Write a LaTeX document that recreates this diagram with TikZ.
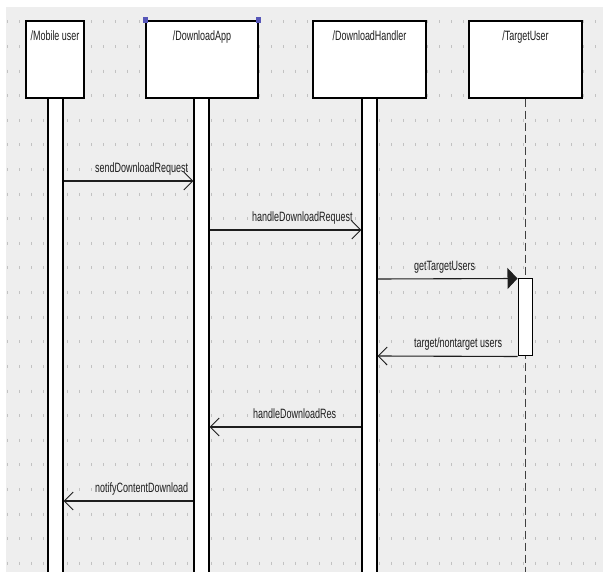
\documentclass[tikz,border=0pt]{standalone}
\usepackage{fontspec}
\setmainfont{Liberation Sans}[FakeStretch=0.665]
\usetikzlibrary{arrows.meta}
\definecolor{bggray}{HTML}{EEEEEE}
\definecolor{dotgray}{HTML}{C2C2C2}
\definecolor{handleblue}{HTML}{5656B8}
\definecolor{inkdark}{HTML}{1E1E1E}
\begin{document}
\begin{tikzpicture}[x=1pt,y=-1pt,
  every node/.style={font=\fontsize{13.5}{15}\selectfont, text=inkdark},
  objbox/.style={draw=black, line width=1.3pt, fill=white, minimum width=#1, minimum height=77pt, inner sep=0pt},
  objname/.style={anchor=north, inner sep=0pt, yshift=-10pt},
  lifebar/.style={draw=black, line width=1.1pt, fill=white, minimum width=15pt, minimum height=480pt, anchor=north, inner sep=0pt},
  actbox/.style={draw=black, line width=1pt, fill=white, minimum width=14pt, minimum height=77pt, inner sep=0pt},
  dashline/.style={draw=black!75, line width=1.3pt, dash pattern=on 8pt off 4pt},
  msg/.style={draw=inkdark, line width=1.1pt, -{Straight Barb[length=9pt,width=18pt,line width=0.9pt]}},
  callmsg/.style={draw=inkdark, line width=1.1pt, -{Triangle[length=10pt,width=21pt]}},
  msglabel/.style={anchor=base west, inner sep=0pt},
  handlesq/.style={fill=handleblue, minimum width=5pt, minimum height=6pt, inner sep=0pt}
]
\useasboundingbox (0,0) rectangle (603,572);
\fill[white] (0,0) rectangle (603,572);
\fill[bggray] (6,7) rectangle (603,572);
% dotted grid
\foreach \i in {0,...,49} {
  \foreach \j in {0,...,22} {
    \draw[dotgray, line width=0.8pt] ({7+12*\i},{20.5+24.6*\j}) -- ({7+12*\i},{23.5+24.6*\j});
  }
}
% object boxes
\node[objbox=58pt] (mu) at (55,59.5) {};
\node[objname] (mut) at (mu.north) {/Mobile user};
\node[objbox=112pt] (da) at (202,59.5) {};
\node[objname] (dat) at (da.north) {/DownloadApp};
\node[objbox=113pt] (dh) at (369.5,59.5) {};
\node[objname] (dht) at (dh.north) {/DownloadHandler};
\node[objbox=113pt] (tu) at (525.5,59.5) {};
\node[objname] (tut) at (tu.north) {/TargetUser};
% selection handles
\node[handlesq] (h1) at (da.north west) {};
\node[handlesq] (h2) at (da.north east) {};
% lifelines
\node[lifebar] (mub) at (55.5,98) {};
\node[lifebar] (dab) at (201.5,98) {};
\node[lifebar] (dhb) at (369.5,98) {};
\coordinate (tutop) at (tu.south);
\coordinate (tubot) at (525.5,575);
\draw[dashline] (tutop) -- (tubot);
\node[actbox] (tua) at (525,317.5) {};
% message endpoints
\coordinate (m1a) at (mub.east |- 0,181);
\coordinate (m1b) at (dab.west |- 0,181);
\coordinate (m2a) at (dab.east |- 0,230);
\coordinate (m2b) at (dhb.west |- 0,230);
\coordinate (m3a) at (dhb.east |- 0,279);
\coordinate (m3b) at (tua.north west);
\coordinate (m4a) at (tua.south west);
\coordinate (m4b) at (dhb.east |- 0,356);
\coordinate (m5a) at (dhb.west |- 0,427);
\coordinate (m5b) at (dab.east |- 0,427);
\coordinate (m6a) at (dab.west |- 0,501);
\coordinate (m6b) at (mub.east |- 0,501);
% messages
\draw[msg] (m1a) -- (m1b);
\node[msglabel] (l1) at (95,172.5) {sendDownloadRequest};
\draw[msg] (m2a) -- (m2b);
\node[msglabel] (l2) at (252,221.5) {handleDownloadRequest};
\draw[callmsg] (m3a) -- (m3b);
\node[msglabel] (l3) at (414,270.5) {getTargetUsers};
\draw[msg] (m4a) -- (m4b);
\node[msglabel] (l4) at (414,347.5) {target/nontarget users};
\draw[msg] (m5a) -- (m5b);
\node[msglabel] (l5) at (253,418.5) {handleDownloadRes};
\draw[msg] (m6a) -- (m6b);
\node[msglabel] (l6) at (95,492.5) {notifyContentDownload};
\end{tikzpicture}
\end{document}
